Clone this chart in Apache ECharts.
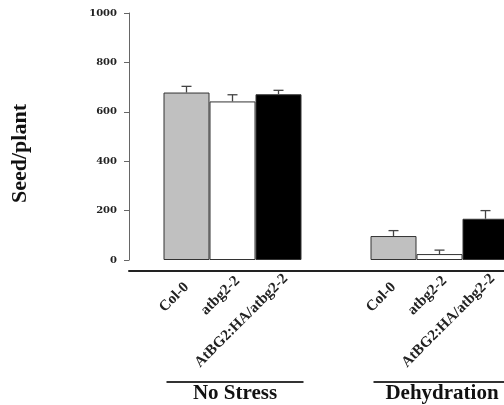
<!DOCTYPE html>
<html>
<head>
<meta charset="utf-8">
<script src="https://cdn.jsdelivr.net/npm/echarts@6/dist/echarts.min.js"></script>
<style>html,body{margin:0;padding:0;background:#fff;}#c{width:504px;height:405px;}</style>
</head>
<body>
<div id="c"></div>
<script>
var groups = ['No Stress', 'Dehydration'];
var seriesNames = ['Col-0', 'atbg2-2', 'AtBG2:HA/atbg2-2'];
var colValues = [678, 97];
var colErr = [25, 22];
var atbgValues = [642, 24];
var atbgErr = [27, 16];
var compValues = [671, 167];
var compErr = [16, 33];
var yTicks = [0, 200, 400, 600, 800, 1000];

var values = [colValues, atbgValues, compValues];
var errs = [colErr, atbgErr, compErr];
var fills = ['#c0c0c0', '#ffffff', '#000000'];
var labelShift = [[0, 0], [8, -1], [11, -1]];
var BW = 46;
var serif = '"Liberation Serif", "Times New Roman", serif';

var series = [];
values.forEach(function (vals, si) {
  series.push({
    type: 'bar',
    name: seriesNames[si],
    data: vals,
    barWidth: BW,
    barGap: '0%',
    itemStyle: { color: fills[si], borderColor: '#333', borderWidth: 1 },
    label: {
      show: true,
      position: 'bottom',
      distance: 25,
      rotate: 45,
      align: 'right',
      verticalAlign: 'middle',
      offset: labelShift[si],
      formatter: function (p) { return p.seriesName; },
      fontFamily: serif,
      fontWeight: 'bold',
      fontSize: 15,
      color: '#222'
    },
    z: 2
  });
});
values.forEach(function (vals, si) {
  var d = vals.map(function (v, i) { return [i, v, errs[si][i]]; });
  series.push({
    type: 'custom',
    data: d,
    encode: { x: 0, y: 1 },
    z: 5,
    silent: true,
    renderItem: function (params, api) {
      var c = api.value(0), v = api.value(1), e = api.value(2);
      var off = (si - 1) * BW;
      var p0 = api.coord([c, v]);
      var p1 = api.coord([c, v + e]);
      var x = p0[0] + off;
      var st = { stroke: '#444', lineWidth: 1.3 };
      return {
        type: 'group',
        children: [
          { type: 'line', shape: { x1: x, y1: p0[1], x2: x, y2: p1[1] }, style: st },
          { type: 'line', shape: { x1: x - 5, y1: p1[1], x2: x + 5, y2: p1[1] }, style: st }
        ]
      };
    }
  });
});

var chart = echarts.init(document.getElementById('c'));
chart.setOption({
  backgroundColor: '#fff',
  animation: false,
  grid: { left: 129, top: 13, width: 414, bottom: 145, containLabel: false, outerBoundsMode: 'none' },
  xAxis: {
    type: 'category',
    data: groups,
    offset: 11,
    axisLine: { onZero: false, lineStyle: { color: '#222', width: 2 } },
    axisTick: { show: false },
    axisLabel: {
      margin: 110,
      interval: 0,
      padding: [0, 0, 0, 5],
      formatter: function (n) { return '{l|}\n{t|' + n + '}'; },
      rich: {
        l: { width: 137, height: 2, backgroundColor: '#333', lineHeight: 2 },
        t: { fontFamily: serif, fontWeight: 'bold', fontSize: 21, lineHeight: 22, color: '#111' }
      }
    }
  },
  yAxis: {
    type: 'value',
    min: 0,
    max: 1000,
    interval: 200,
    name: 'Seed/plant',
    nameLocation: 'middle',
    nameGap: 98,
    nameTextStyle: { fontFamily: serif, fontWeight: 'bold', fontSize: 22, color: '#111', padding: [0, 34, 0, 0] },
    axisLine: { show: true, lineStyle: { color: '#666', width: 1 } },
    axisTick: { show: true, length: 5, lineStyle: { color: '#666' } },
    splitLine: { show: false },
    axisLabel: {
      margin: 12,
      fontFamily: '"DejaVu Serif", serif',
      fontWeight: 'bold',
      fontSize: 10,
      color: '#222',
      formatter: function (v) { return yTicks.indexOf(v) >= 0 ? String(v) : ''; }
    }
  },
  series: series
});
</script>
</body>
</html>
